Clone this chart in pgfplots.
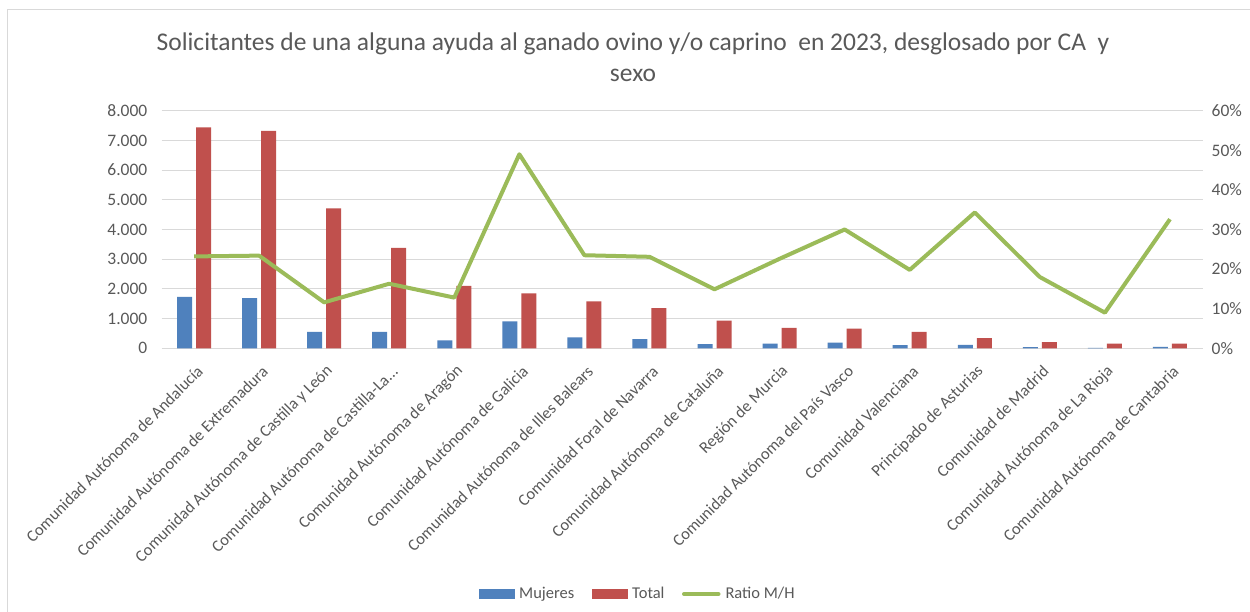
\documentclass[border=0pt]{standalone}
\usepackage{fontspec}
\setmainfont{Carlito}
\usepackage{pgfplots}
\usepackage{pgfplotstable}
\pgfplotsset{compat=1.18}
\definecolor{cblue}{HTML}{4F81BD}
\definecolor{cred}{HTML}{C0504D}
\definecolor{cgreen}{HTML}{9BBB59}
\definecolor{ctext}{HTML}{595959}
\definecolor{cgrid}{HTML}{D9D9D9}
\newcommand{\tdots}{.\kern0pt.\kern0pt.}
\pgfplotstableread{
x mujeres total ratio
0 1730 7440 0.232
1 1690 7320 0.234
2 550 4710 0.116
3 550 3380 0.163
4 270 2100 0.128
5 910 1850 0.490
6 370 1580 0.235
7 310 1350 0.231
8 140 930 0.149
9 155 690 0.226
10 195 660 0.300
11 110 550 0.198
12 115 340 0.343
13 40 210 0.180
14 14 155 0.090
15 50 155 0.326
}\datatable
\begin{document}
\begin{tikzpicture}
\path[use as bounding box] (0pt,0pt) rectangle (1250pt,612pt);
\fill[white] (0pt,0pt) rectangle (1250pt,612pt);
\draw[cgrid, line width=1pt] (7.5pt,0pt) -- (7.5pt,602pt) -- (1250pt,602pt);
\node[anchor=base, text=ctext, font=\fontsize{25.5}{30}\selectfont, inner sep=0pt] at (633pt,561pt) {Solicitantes de una alguna ayuda al ganado ovino y/o caprino\ \ en 2023, desglosado por CA\ \ y};
\node[anchor=base, text=ctext, font=\fontsize{25.5}{30}\selectfont, inner sep=0pt] at (633pt,530pt) {sexo};
\begin{axis}[
  at={(161.5pt,263.7pt)}, anchor=south west,
  scale only axis, width=1041pt, height=237.6pt,
  xmin=-0.5, xmax=15.5, ymin=0, ymax=8000,
  axis line style={draw=none},
  major tick length=0pt,
  ytick={0,1000,2000,3000,4000,5000,6000,7000,8000},
  yticklabels={0,1.000,2.000,3.000,4.000,5.000,6.000,7.000,8.000},
  ymajorgrids, grid style={cgrid, line width=1pt},
  xtick={0,1,2,3,4,5,6,7,8,9,10,11,12,13,14,15},
  xticklabels={{Comunidad Autónoma de Andalucía}, {Comunidad Autónoma de Extremadura}, {Comunidad Autónoma de Castilla y León}, {Comunidad Autónoma de Castilla-La\tdots}, {Comunidad Autónoma de Aragón}, {Comunidad Autónoma de Galicia}, {Comunidad Autónoma de Illes Balears}, {Comunidad Foral de Navarra}, {Comunidad Autónoma de Cataluña}, {Región de Murcia}, {Comunidad Autónoma del País Vasco}, {Comunidad Valenciana}, {Principado de Asturias}, {Comunidad de Madrid}, {Comunidad Autónoma de La Rioja}, {Comunidad Autónoma de Cantabria}},
  xticklabel style={rotate=45, anchor=east, inner sep=0pt, text=ctext, font=\fontsize{16.5}{19}\selectfont, yshift=-18.5pt, xshift=-10pt},
  yticklabel style={anchor=east, inner sep=0pt, text=ctext, font=\fontsize{17.5}{20}\selectfont, xshift=-14pt},
  ybar, bar width=15pt,
]
\addplot[fill=cblue, draw=none, bar shift=-9.5pt] table[x=x,y=mujeres]{\datatable};
\addplot[fill=cred, draw=none, bar shift=9.5pt] table[x=x,y=total]{\datatable};
\end{axis}
\begin{axis}[
  at={(161.5pt,263.7pt)}, anchor=south west,
  scale only axis, width=1041pt, height=237.6pt,
  xmin=-0.5, xmax=15.5, ymin=0, ymax=0.6,
  axis y line*=right, axis x line=none,
  axis line style={draw=none},
  major tick length=0pt,
  ytick={0,0.1,0.2,0.3,0.4,0.5,0.6},
  yticklabels={0\%,10\%,20\%,30\%,40\%,50\%,60\%},
  yticklabel style={anchor=west, inner sep=0pt, text=ctext, font=\fontsize{17.5}{20}\selectfont, xshift=9pt},
  legend columns=3,
  legend style={draw=none, fill=none, at={(0.4572,-1.034)}, anchor=center, text=ctext, font=\fontsize{16.5}{19}\selectfont, nodes={inner sep=1.5pt}, /tikz/every odd column/.append style={column sep=3.5pt}, /tikz/every even column/.append style={column sep=16pt}},
]
\addlegendimage{legend image code/.code={\fill[cblue] (0pt,-4.5pt) rectangle (35pt,4.5pt);}}
\addlegendentry{Mujeres}
\addlegendimage{legend image code/.code={\fill[cred] (0pt,-4.5pt) rectangle (35pt,4.5pt);}}
\addlegendentry{Total}
\addplot[cgreen, line width=4pt, line join=round, mark=none, legend image code/.code={\draw[cgreen, line width=4pt, line cap=round] (1.5pt,0pt) -- (36pt,0pt);}] table[x=x,y=ratio]{\datatable};
\addlegendentry{Ratio M/H}
\end{axis}
\end{tikzpicture}
\end{document}
